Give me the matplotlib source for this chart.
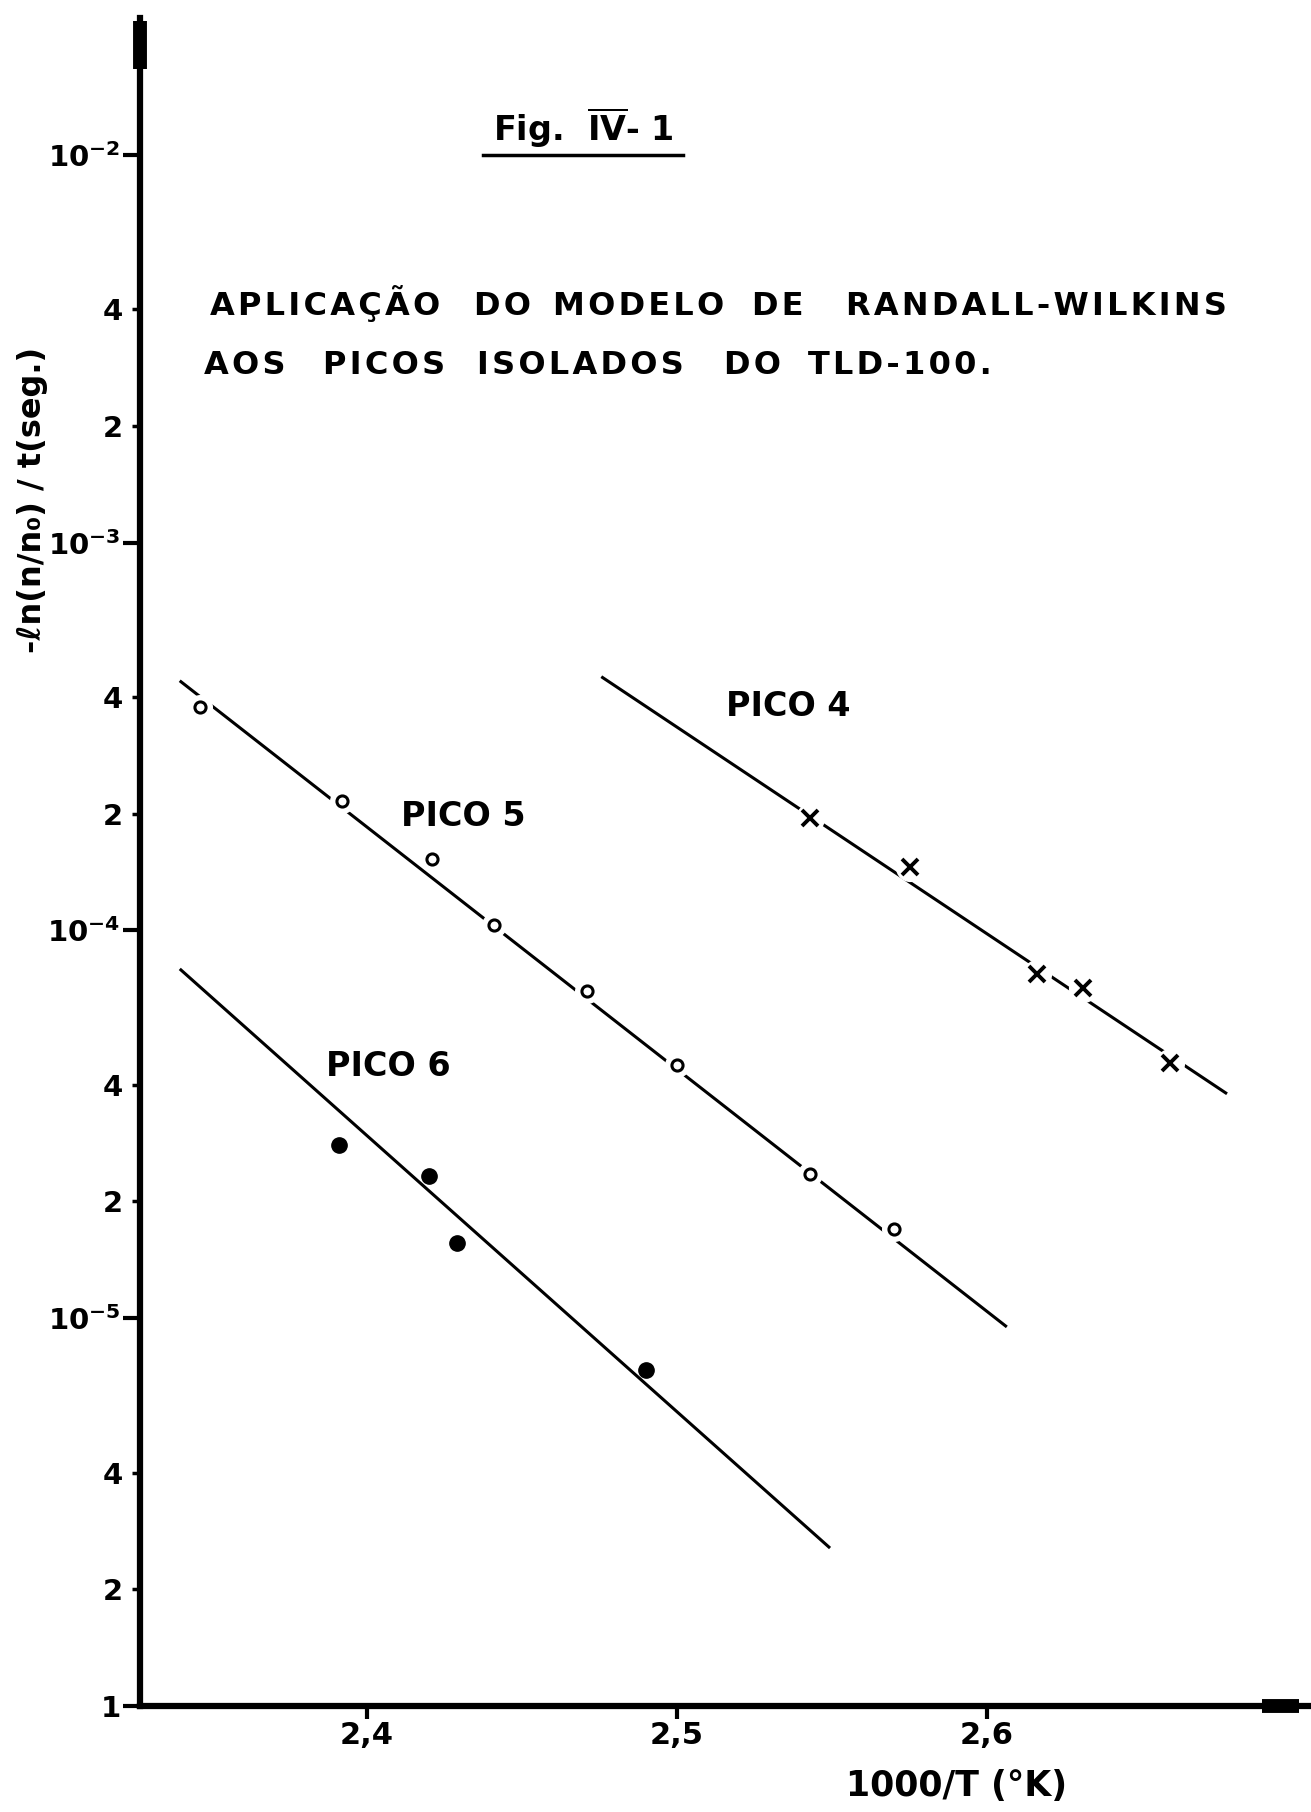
import matplotlib
matplotlib.use('Agg')
import matplotlib.pyplot as plt
from matplotlib.lines import Line2D
from matplotlib.ticker import FixedLocator, FixedFormatter

plt.rcParams['font.family'] = ['DejaVu Sans']
plt.rcParams['font.weight'] = 'bold'
plt.rcParams['mathtext.default'] = 'bf'

# pontos medidos: 1000/T e -ln(n/no)/t
pico4_x = [2.543, 2.575, 2.616, 2.631, 2.659]
pico4_y = [1.95e-4, 1.46e-4, 7.7e-5, 7.1e-5, 4.55e-5]
pico5_x = [2.346, 2.392, 2.421, 2.441, 2.471, 2.500, 2.543, 2.570]
pico5_y = [3.77e-4, 2.16e-4, 1.53e-4, 1.03e-4, 7.0e-5, 4.5e-5, 2.35e-5, 1.70e-5]
pico6_x = [2.391, 2.420, 2.429, 2.490]
pico6_y = [2.80e-5, 2.33e-5, 1.56e-5, 7.35e-6]

# retas ajustadas (inicio, fim)
reta4_x = [2.476, 2.677]
reta4_y = [4.49e-4, 3.81e-5]
reta5_x = [2.340, 2.606]
reta5_y = [4.38e-4, 9.55e-6]
reta6_x = [2.340, 2.549]
reta6_y = [7.91e-5, 2.57e-6]

# eixos
xticks = [2.4, 2.5, 2.6]
xticklabels = ['2,4', '2,5', '2,6']
yticks_maj = [1e-6, 1e-5, 1e-4, 1e-3, 1e-2]
yticklabels_maj = ['1', r'$10^{-5}$', r'$10^{-4}$', r'$10^{-3}$', r'$10^{-2}$']
yticks_min = [2e-6, 4e-6, 2e-5, 4e-5, 2e-4, 4e-4, 2e-3, 4e-3]
yticklabels_min = ['2', '4', '2', '4', '2', '4', '2', '4']

# rotulos das curvas (posicao em coordenadas de dados)
rotulos = ['PICO 4', 'PICO 5', 'PICO 6']
rot_x = [2.536, 2.431, 2.407]
rot_y = [3.77e-4, 1.97e-4, 4.45e-5]

# titulo, palavra por palavra (x em pixels da figura)
titulo1 = ['APLICAÇÃO', 'DO', 'MODELO', 'DE', 'RANDALL-WILKINS']
titulo1_x = [210, 474, 553, 752, 846]
titulo2 = ['AOS', 'PICOS', 'ISOLADOS', 'DO', 'TLD-100.']
titulo2_x = [204, 323, 477, 724, 808]


def espacar(palavra):
    # letras um pouco afastadas, como no letreiro original
    return '\u200a'.join(palavra)


W, H = 1311, 1812
fig = plt.figure(figsize=(W / 100, H / 100), dpi=100)
ax = fig.add_axes([140 / W, 1 - 1706 / H, (W - 140) / W, (1706 - 18) / H])

ax.set_yscale('log')
ax.set_xlim(2.3268, 2.7045)
ax.set_ylim(1e-6, 10 ** -1.647)

# retas
for rx, ry in [(reta4_x, reta4_y), (reta5_x, reta5_y), (reta6_x, reta6_y)]:
    ax.plot(rx, ry, color='black', lw=2.2, zorder=2)

# pico 5 - circulos abertos (com folga branca sobre a reta)
ax.plot(pico5_x, pico5_y, 'o', ms=17, color='white', zorder=3)
ax.plot(pico5_x, pico5_y, 'o', ms=8, mfc='white', mec='black', mew=2.2, zorder=4)
# pico 4 - cruzes
ax.plot(pico4_x, pico4_y, 'o', ms=20, color='white', zorder=3)
ax.plot(pico4_x, pico4_y, 'x', ms=12, mec='black', mew=2.8, zorder=4)
# pico 6 - pontos cheios
ax.plot(pico6_x, pico6_y, 'o', ms=11, color='black', zorder=4)

for t, px, py in zip(rotulos, rot_x, rot_y):
    ax.text(px, py, t, ha='center', va='center', fontsize=24, fontweight='bold')

# ticks
ax.xaxis.set_major_locator(FixedLocator(xticks))
ax.xaxis.set_major_formatter(FixedFormatter(xticklabels))
ax.xaxis.set_minor_locator(FixedLocator([]))
ax.yaxis.set_major_locator(FixedLocator(yticks_maj))
ax.yaxis.set_major_formatter(FixedFormatter(yticklabels_maj))
ax.yaxis.set_minor_locator(FixedLocator(yticks_min))
ax.yaxis.set_minor_formatter(FixedFormatter(yticklabels_min))
ax.tick_params(axis='x', which='major', direction='out', length=9, width=3,
               pad=2, labelsize=22)
ax.tick_params(axis='y', which='major', direction='out', length=12, width=3,
               pad=2, labelsize=21)
ax.tick_params(axis='y', which='minor', direction='out', length=6, width=2.5,
               pad=6, labelsize=21)

for s in ['top', 'right']:
    ax.spines[s].set_visible(False)
for s in ['left', 'bottom']:
    ax.spines[s].set_linewidth(4.5)

# pontas das setas dos eixos
ax.plot([0, 0], [0.970, 0.998], transform=ax.transAxes, color='black',
        lw=10, solid_capstyle='butt', clip_on=False)
ax.plot([0.958, 0.99], [0, 0], transform=ax.transAxes, color='black',
        lw=10, solid_capstyle='butt', clip_on=False)

# titulos
fig.text(583 / W, 1 - 128 / H, r'Fig.  $\overline{\mathbf{IV}}$- 1',
         ha='center', va='center', fontsize=24, fontweight='bold')
fig.add_artist(Line2D([483 / W, 683 / W], [1 - 155 / H, 1 - 155 / H],
                      color='black', lw=2.5))
for palavra, px in zip(titulo1, titulo1_x):
    fig.text(px / W, 1 - 315 / H, espacar(palavra), ha='left', va='baseline',
             fontsize=23, fontweight='bold')
for palavra, px in zip(titulo2, titulo2_x):
    fig.text(px / W, 1 - 374 / H, espacar(palavra), ha='left', va='baseline',
             fontsize=23, fontweight='bold')

fig.text(33 / W, 1 - 500 / H, '-ℓn(n/n₀) / t(seg.)', rotation=90,
         ha='center', va='center', fontsize=23, fontweight='bold')
fig.text(957 / W, 1 - 1786 / H, '1000/T (°K)', ha='center', va='center',
         fontsize=25, fontweight='bold')

fig.savefig('out.png', dpi=100, facecolor='white')
